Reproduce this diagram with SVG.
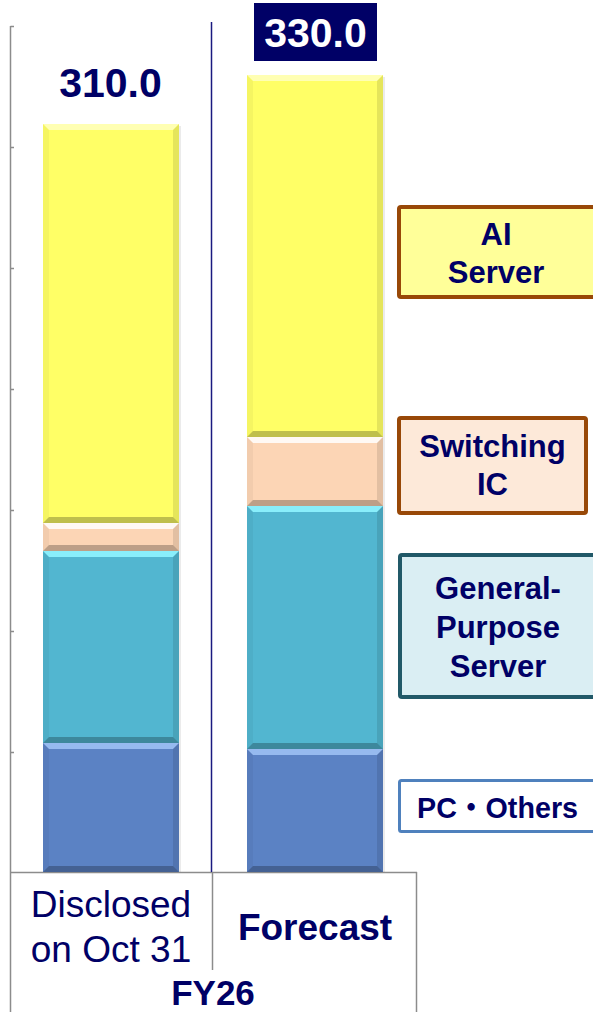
<svg xmlns="http://www.w3.org/2000/svg" width="593" height="1012" viewBox="0 0 593 1012">
<style>
  text { font-family: "Liberation Sans", Arial, "Noto Sans CJK JP", sans-serif; fill: #000066; }
  .b { font-weight: bold; }
  .hl { fill: #ffffff; opacity: 0.5; }
  .sh { fill: #000000; opacity: 0.25; }
  .sl { fill: #000000; opacity: 0.04; }
  .sr { fill: #000000; opacity: 0.1; }
  .yel { fill: #FFFF66; }
  .pch { fill: #FCD5B5; }
  .cyn { fill: #52B6D0; }
  .blu { fill: #5B82C4; }
  .axis { stroke: #8c8c8c; stroke-width: 1.5; fill: none; }
  .leg { font-size: 31px; font-weight: bold; text-anchor: middle; }
</style>
<rect width="593" height="1012" fill="#ffffff"/>

<g id="axes">
  <line class="axis" x1="10.5" y1="26" x2="10.5" y2="1012"/>
  <path class="axis" d="M10.5 26.5H14M10.5 147.5H14M10.5 268.5H14M10.5 389.5H14M10.5 510.5H14M10.5 631.5H14M10.5 752.5H14"/>
  <line class="axis" x1="10" y1="872.5" x2="417" y2="872.5"/>
  <line class="axis" x1="212.5" y1="872" x2="212.5" y2="970"/>
  <line class="axis" x1="416.5" y1="872" x2="416.5" y2="1012"/>
  <line x1="211.5" y1="22" x2="211.5" y2="872" stroke="#1a1a80" stroke-width="1.5"/>
</g>

<g id="bar-disclosed">
  <rect x="45" y="126" width="136" height="746" fill="#000" opacity="0.08"/>
  <rect class="yel" x="43" y="124" width="136" height="399"/>
  <polygon class="hl" points="43,124 179,124 173,130 49,130"/>
  <polygon class="sh" points="43,523 179,523 173,517 49,517"/>
  <polygon class="sl" points="43,124 49,130 49,517 43,523"/>
  <polygon class="sr" points="179,124 173,130 173,517 179,523"/>

  <rect class="pch" x="43" y="523" width="136" height="28"/>
  <polygon class="hl" points="43,523 179,523 173,529 49,529" style="opacity:0.85"/>
  <polygon class="sh" points="43,551 179,551 173,545 49,545"/>
  <polygon class="sl" points="43,523 49,529 49,545 43,551"/>
  <polygon class="sr" points="179,523 173,529 173,545 179,551"/>

  <rect class="cyn" x="43" y="551" width="136" height="192"/>
  <polygon class="hl" points="43,551 179,551 173,557 49,557" style="fill:#8ff4ff;opacity:0.9"/>
  <polygon class="sh" points="43,743 179,743 173,737 49,737"/>
  <polygon class="sl" points="43,551 49,557 49,737 43,743"/>
  <polygon class="sr" points="179,551 173,557 173,737 179,743"/>

  <rect class="blu" x="43" y="743" width="136" height="129"/>
  <polygon class="hl" points="43,743 179,743 173,749 49,749" style="fill:#9cc0f4;opacity:0.9"/>
  <polygon class="sh" points="43,872 179,872 173,866 49,866"/>
  <polygon class="sl" points="43,743 49,749 49,866 43,872"/>
  <polygon class="sr" points="179,743 173,749 173,866 179,872"/>
</g>

<g id="bar-forecast">
  <rect x="249" y="77" width="136" height="795" fill="#000" opacity="0.08"/>
  <rect class="yel" x="247" y="75" width="136" height="362"/>
  <polygon class="hl" points="247,75 383,75 377,81 253,81"/>
  <polygon class="sh" points="247,437 383,437 377,431 253,431"/>
  <polygon class="sl" points="247,75 253,81 253,431 247,437"/>
  <polygon class="sr" points="383,75 377,81 377,431 383,437"/>

  <rect class="pch" x="247" y="437" width="136" height="69"/>
  <polygon class="hl" points="247,437 383,437 377,443 253,443" style="opacity:0.85"/>
  <polygon class="sh" points="247,506 383,506 377,500 253,500"/>
  <polygon class="sl" points="247,437 253,443 253,500 247,506"/>
  <polygon class="sr" points="383,437 377,443 377,500 383,506"/>

  <rect class="cyn" x="247" y="506" width="136" height="243"/>
  <polygon class="hl" points="247,506 383,506 377,512 253,512" style="fill:#8ff4ff;opacity:0.9"/>
  <polygon class="sh" points="247,749 383,749 377,743 253,743"/>
  <polygon class="sl" points="247,506 253,512 253,743 247,749"/>
  <polygon class="sr" points="383,506 377,512 377,743 383,749"/>

  <rect class="blu" x="247" y="749" width="136" height="123"/>
  <polygon class="hl" points="247,749 383,749 377,755 253,755" style="fill:#9cc0f4;opacity:0.9"/>
  <polygon class="sh" points="247,872 383,872 377,866 253,866"/>
  <polygon class="sl" points="247,749 253,755 253,866 247,872"/>
  <polygon class="sr" points="383,749 377,755 377,866 383,872"/>
</g>

<g id="total-disclosed">
  <text class="b" x="110.5" y="97" font-size="41" text-anchor="middle">310.0</text>
</g>
<g id="total-forecast">
  <rect x="254" y="3" width="123" height="58" fill="#000066"/>
  <text class="b" x="315.5" y="47" font-size="41" text-anchor="middle" style="fill:#ffffff">330.0</text>
</g>

<g id="legend-ai-server">
  <rect x="399" y="207" width="200" height="90" rx="2" fill="#FFFF99" stroke="#984807" stroke-width="4"/>
  <text class="leg" x="496" y="245">AI</text>
  <text class="leg" x="496" y="283">Server</text>
</g>
<g id="legend-switching-ic">
  <rect x="399" y="418" width="187" height="95" rx="2" fill="#FDE9D9" stroke="#984807" stroke-width="4"/>
  <text class="leg" x="492.5" y="457">Switching</text>
  <text class="leg" x="492.5" y="495">IC</text>
</g>
<g id="legend-general-purpose-server">
  <rect x="400" y="555" width="200" height="142" rx="2" fill="#DAEEF3" stroke="#215968" stroke-width="4"/>
  <text class="leg" x="498" y="599">General-</text>
  <text class="leg" x="498" y="638">Purpose</text>
  <text class="leg" x="498" y="677">Server</text>
</g>
<g id="legend-pc-others">
  <rect x="399.5" y="780.5" width="200" height="51" rx="2" fill="#ffffff" stroke="#4F81BD" stroke-width="3"/>
  <text class="b" x="417" y="818" font-size="30" textLength="161" lengthAdjust="spacingAndGlyphs">PC・Others</text>
</g>

<g id="category-labels">
  <text x="111" y="917" font-size="37" text-anchor="middle">Disclosed</text>
  <text x="111" y="962" font-size="37" text-anchor="middle">on Oct 31</text>
  <text class="b" x="315" y="940" font-size="37" text-anchor="middle">Forecast</text>
  <text class="b" x="213" y="1005" font-size="35" text-anchor="middle">FY26</text>
</g>
</svg>
